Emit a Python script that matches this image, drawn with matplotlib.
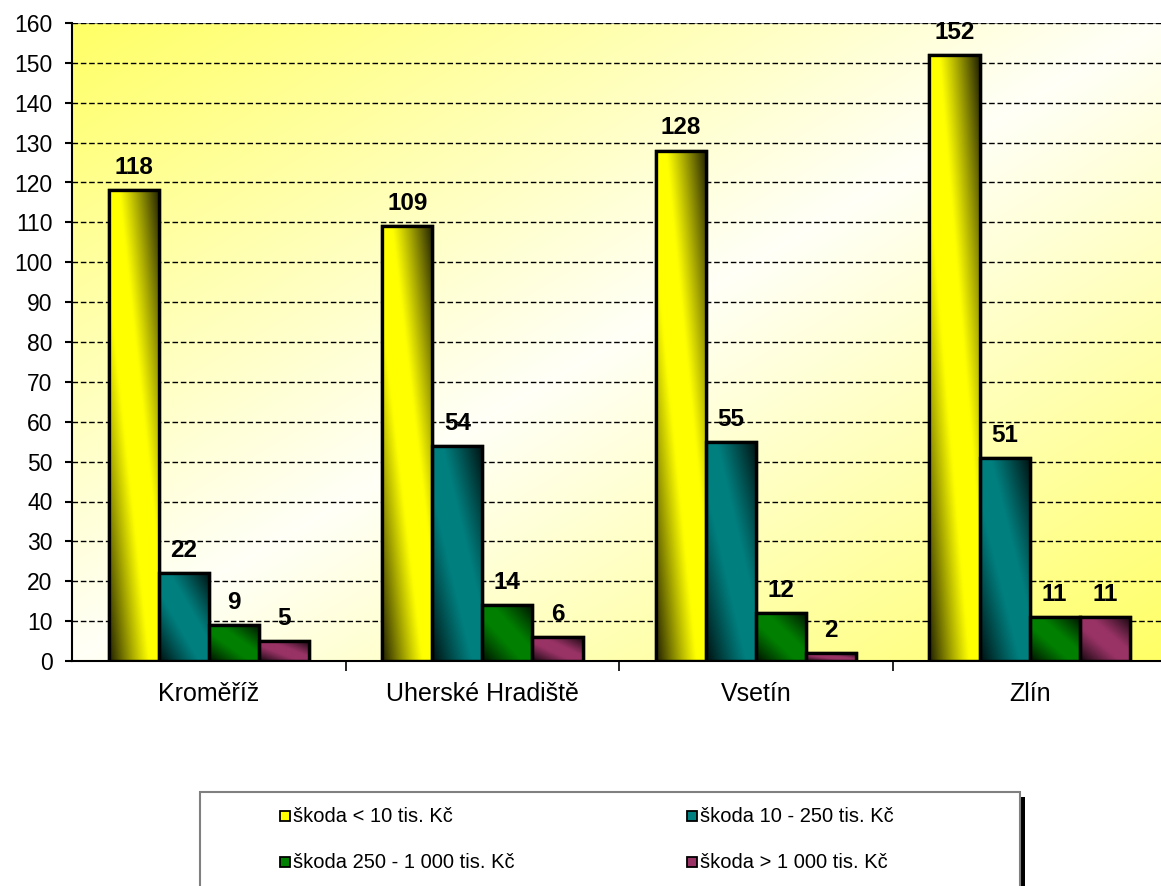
import numpy as np
import matplotlib
matplotlib.use("Agg")
import matplotlib.pyplot as plt
from matplotlib.patches import Rectangle

categories = ["Kroměříž", "Uherské Hradiště", "Vsetín", "Zlín"]
series_names = ["škoda < 10 tis. Kč", "škoda 10 - 250 tis. Kč",
                "škoda 250 - 1 000 tis. Kč", "škoda > 1 000 tis. Kč"]
values = [
    [118, 109, 128, 152],
    [22, 54, 55, 51],
    [9, 14, 12, 11],
    [5, 6, 2, 11],
]
colors = [(1.0, 1.0, 0.0), (0.0, 0.5, 0.5), (0.0, 0.5, 0.0), (0.6, 0.2, 0.4)]

plt.rcParams['font.family'] = ['Liberation Sans', 'DejaVu Sans']

W, H = 1161, 886
fig = plt.figure(figsize=(W / 100, H / 100), dpi=100)
fig.patch.set_facecolor("white")
ax = fig.add_axes([72 / W, 1 - 661 / H, (W - 72) / W, (661 - 23) / H])

group_px = 273.6
xmax = (W - 72) / group_px - 0.5
ax.set_xlim(-0.5, xmax)
ax.set_ylim(0, 160)

# background gradient: yellow at top-left and bottom-right, white along anti-diagonal
n = 300
s = np.linspace(0, 1, n)
t = np.linspace(1, 0, n)
S, T = np.meshgrid(s, t)
k = np.abs(S - T)
yellow = np.array([1.0, 1.0, 0.40])
white = np.array([1.0, 1.0, 0.97])
bg = white[None, None, :] * (1 - k[..., None]) + yellow[None, None, :] * k[..., None]
ax.imshow(bg, extent=[-0.5, xmax, 0, 160], aspect="auto", zorder=0, interpolation="bilinear")

# grid
for yv in range(10, 160, 10):
    ax.axhline(yv, color="black", lw=1.0, ls=(0, (4, 2)), zorder=1)
ax.axhline(160, color="#808080", lw=1.2, zorder=1)
ax.axhline(160, color="black", lw=1.0, ls=(0, (4, 2)), zorder=1)

bw = 0.183
x = np.arange(len(categories))
offsets = (np.arange(4) - 1.5) * bw

def shade_img(color, nn=120):
    ss = np.linspace(0, 1, nn)
    tt = np.linspace(1, 0, nn)
    SS, TT = np.meshgrid(ss, tt)
    d = np.abs(SS + TT - 1)
    f = 1 - 0.88 * np.clip((d - 0.2) / 0.8, 0, 1) ** 1.1
    c = np.array(color)
    return c[None, None, :] * f[..., None]

for i, (vals, col) in enumerate(zip(values, colors)):
    bars = ax.bar(x + offsets[i], vals, width=bw, color=col, edgecolor="black",
                  linewidth=2.4, zorder=3)
    img = shade_img(col)
    for b, v in zip(bars, vals):
        x0 = b.get_x()
        im = ax.imshow(img, extent=[x0, x0 + bw, 0, v], aspect="auto", zorder=3.5,
                       interpolation="bilinear")
        im.set_clip_path(b)
        ax.add_patch(Rectangle((x0, 0), bw, v, fill=False, edgecolor="black",
                               linewidth=2.4, zorder=4))
        ax.annotate(str(v), (x0 + bw / 2, v), xytext=(0, 8), textcoords="offset points",
                    ha="center", va="bottom", fontsize=17.5, fontweight="bold", zorder=5)

ax.set_xlim(-0.5, xmax)
ax.set_ylim(0, 160)

# axes styling
for sp in ["top", "right"]:
    ax.spines[sp].set_visible(False)
ax.spines["left"].set_linewidth(1.5)
ax.spines["bottom"].set_linewidth(1.5)
ax.spines["left"].set_zorder(6)
ax.spines["bottom"].set_zorder(6)
ax.set_yticks(range(0, 161, 10))
ax.tick_params(axis="y", direction="out", length=5, width=1.5, pad=9, labelsize=16.5)
ax.set_xticks(np.arange(len(categories) - 1) + 0.5)
ax.set_xticklabels([])
ax.tick_params(axis="x", which="major", direction="out", length=7, width=1.2)
ax.set_xticks(x, minor=True)
ax.set_xticklabels(categories, minor=True)
ax.tick_params(axis="x", which="minor", length=0, pad=15, labelsize=18)

# legend box
fig.add_artist(Rectangle((1020 / W, 0), 5 / W, (H - 797) / H, transform=fig.transFigure,
                         facecolor="black", edgecolor="none", zorder=1))
fig.add_artist(Rectangle((200 / W, -0.02), 820 / W, (H - 792) / H + 0.02,
                         transform=fig.transFigure, facecolor="white",
                         edgecolor="#808080", linewidth=1.5, zorder=2))
pos = [(285, 816), (692, 816), (285, 862), (692, 862)]
for (px, py), name, col in zip(pos, series_names, colors):
    fig.add_artist(Rectangle(((px - 5) / W, 1 - (py + 5) / H), 10 / W, 10 / H,
                             transform=fig.transFigure, facecolor=col,
                             edgecolor="black", linewidth=1.3, zorder=3))
    fig.text((px + 8) / W, 1 - py / H, name, ha="left", va="center",
             fontsize=14.5, zorder=4)

fig.savefig("out.png", dpi=100)
